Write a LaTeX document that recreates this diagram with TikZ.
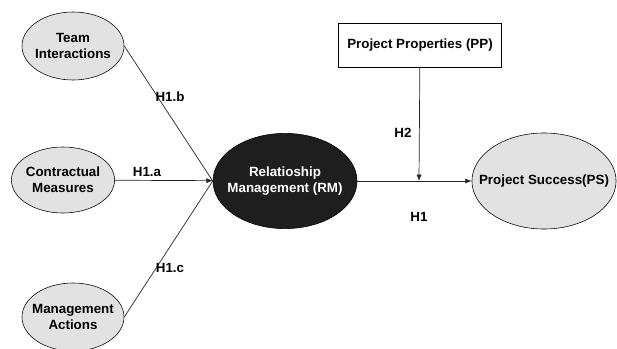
\documentclass[tikz,border=0pt]{standalone}
\usepackage{fontspec}
\setmainfont{Liberation Sans}
\usetikzlibrary{shapes.geometric, arrows.meta}
\definecolor{lightgrey}{HTML}{E2E2E2}
\definecolor{darkfill}{HTML}{1E1E1E}

\begin{document}
\begin{tikzpicture}[x=0.025cm, y=-0.025cm,
    construct/.style={ellipse, draw, fill=lightgrey, thin, align=center, inner xsep=-0.2cm, inner ysep=0pt, font=\bfseries\fontsize{9.5}{11.4}\selectfont},
    hyp/.style={font=\bfseries\fontsize{9.5}{11.4}\selectfont, inner sep=1pt},
    link/.style={draw=black!85, line width=0.5pt},
    tip/.style={-{Latex[length=1.6mm, width=1.3mm]}}]
      \useasboundingbox (0, 0) rectangle (617, 348);
      \node[construct, minimum width=2.55cm, minimum height=1.7cm] (TI) at (73, 46) {Team\\Interactions};
      \node[construct, minimum width=2.58cm, minimum height=1.65cm] (CM) at (63, 180) {Contractual\\Measures};
      \node[construct, minimum width=2.55cm, minimum height=1.7cm] (MA) at (73, 317) {Management\\Actions};
      \node[construct, fill=darkfill, text=white, minimum width=3.6cm, minimum height=2.38cm] (RM) at (285, 181) {Relatioship\\Management (RM)};
      \node[construct, inner xsep=-0.35cm, minimum width=3.55cm, minimum height=2.4cm] (PS) at (544, 181) {Project Success(PS)};
      \node[draw, thin, font=\bfseries\fontsize{9.5}{11.4}\selectfont, minimum width=4.08cm, minimum height=1.1cm] (PP) at (420, 45) {Project Properties (PP)};
      \coordinate (mod) at (419, 181);
      \draw[link] (TI.east) -- (RM.west);
      \draw[link] (MA.east) -- (RM.west);
      \draw[link, tip] (CM) -- (RM);
      \draw[link, tip] (RM) -- (PS);
      \draw[link, tip] (PP) -- (mod);
      \node[hyp] (h1b) at (170, 97) {H1.b};
      \node[hyp] (h1a) at (147, 172) {H1.a};
      \node[hyp] (h1c) at (170, 268) {H1.c};
      \node[hyp] (h2) at (403, 133) {H2};
      \node[hyp] (h1) at (419, 217) {H1};
    \end{tikzpicture}
\end{document}
